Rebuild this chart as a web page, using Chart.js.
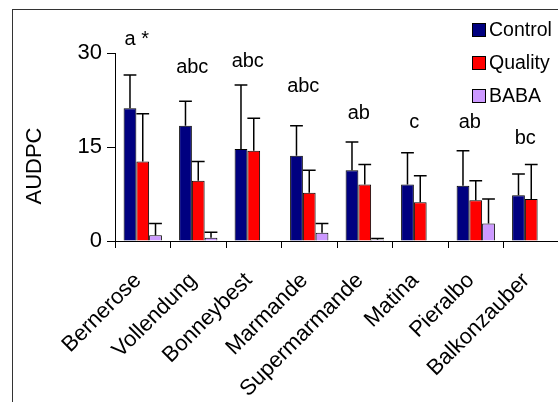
<!DOCTYPE html>
<html>
<head>
<meta charset="utf-8">
<script src="https://cdn.jsdelivr.net/npm/chart.js@4"></script>
<style>
  html, body { margin: 0; padding: 0; background: #fff; overflow: hidden; }
  #wrap { width: 570px; height: 402px; }
</style>
</head>
<body>
<div id="wrap"><canvas id="chartId" width="570" height="402"></canvas></div>
<script>
// cultivars and AUDPC means (+ SD, upper whisker only)
var cultivars = ['Bernerose', 'Vollendung', 'Bonneybest', 'Marmande', 'Supermarmande', 'Matina', 'Pieralbo', 'Balkonzauber'];
var seriesNames = ['Control', 'Quality', 'BABA'];
var control    = [21.2, 18.4, 14.7, 13.6, 11.3, 9.0, 8.8, 7.3];
var controlSd  = [5.3, 3.9, 10.2, 4.8, 4.5, 5.1, 5.6, 3.4];
var quality    = [12.7, 9.6, 14.4, 7.7, 9.0, 6.2, 6.5, 6.7];
var qualitySd  = [7.6, 3.1, 5.2, 3.6, 3.2, 4.2, 3.1, 5.5];
var baba       = [0.9, 0.5, 0, 1.3, 0.2, 0, 2.8, 0];
var babaSd     = [1.9, 0.9, 0, 1.5, 0.2, 0, 3.9, 0];
// significance letters and the height (AUDPC units) they sit at
var letters    = ['a *', 'abc', 'abc', 'abc', 'ab', 'c', 'ab', 'bc'];
var letterAt   = [32.1, 27.7, 28.6, 24.6, 20.4, 18.9, 18.9, 16.4];
var yTicks     = [0, 15, 30];

var colors = ['#000080', '#FF0000', '#CC99FF'];
var sds = [controlSd, qualitySd, babaSd];
var FONT = 'Arial, "Liberation Sans", sans-serif';

var extras = {
    id: 'extras',
    beforeDraw: function(chart) {
        var ctx = chart.ctx;
        ctx.save();
        ctx.fillStyle = '#fff';
        ctx.fillRect(0, 0, chart.width, chart.height);
        ctx.restore();
    },
    afterDatasetsDraw: function(chart) {
        var ctx = chart.ctx;
        var y = chart.scales.y;
        var x = chart.scales.x;
        ctx.save();
        // error bars
        ctx.strokeStyle = '#000';
        ctx.lineWidth = 1.5;
        chart.data.datasets.forEach(function(ds, di) {
            var meta = chart.getDatasetMeta(di);
            meta.data.forEach(function(bar, i) {
                var sd = sds[di][i];
                if (!sd) return;
                var top = y.getPixelForValue(ds.data[i] + sd);
                var half = bar.width / 2;
                ctx.beginPath();
                ctx.moveTo(bar.x, bar.y);
                ctx.lineTo(bar.x, top);
                ctx.moveTo(bar.x - half, top);
                ctx.lineTo(bar.x + half, top);
                ctx.stroke();
            });
        });
        ctx.fillStyle = '#000';
        // category labels, rotated 45 degrees
        ctx.font = '22px ' + FONT;
        ctx.textAlign = 'right';
        ctx.textBaseline = 'middle';
        cultivars.forEach(function(c, i) {
            ctx.save();
            ctx.translate(x.getPixelForValue(i) - 5, 277);
            ctx.rotate(-Math.PI / 4);
            ctx.fillText(c, 0, 0);
            ctx.restore();
        });
        // letters
        ctx.font = '20px ' + FONT;
        ctx.textAlign = 'center';
        ctx.textBaseline = 'middle';
        letters.forEach(function(t, i) {
            ctx.fillText(t, x.getPixelForValue(i) - 6, y.getPixelForValue(letterAt[i]));
        });
        // y title
        ctx.save();
        ctx.translate(35, 166);
        ctx.rotate(-Math.PI / 2);
        ctx.font = '22px ' + FONT;
        ctx.fillText('AUDPC', 0, 0);
        ctx.restore();
        // legend
        ctx.font = '19.5px ' + FONT;
        ctx.textAlign = 'left';
        seriesNames.forEach(function(n, i) {
            var cy = 30 + i * 33;
            ctx.fillStyle = colors[i];
            ctx.fillRect(472, cy - 7, 14, 14);
            ctx.lineWidth = 1;
            ctx.strokeStyle = '#000';
            ctx.strokeRect(472.5, cy - 6.5, 13, 13);
            ctx.fillStyle = '#000';
            ctx.fillText(n, 489, cy + 1);
        });
        // outer frame
        ctx.strokeStyle = '#333';
        ctx.lineWidth = 1;
        ctx.strokeRect(12.5, 9.5, 700, 500);
        ctx.restore();
    }
};

var chrt = document.getElementById('chartId').getContext('2d');
var chartId = new Chart(chrt, {
    type: 'bar',
    data: {
        labels: cultivars,
        datasets: [
            { label: seriesNames[0], data: control, backgroundColor: colors[0] },
            { label: seriesNames[1], data: quality, backgroundColor: colors[1] },
            { label: seriesNames[2], data: baba, backgroundColor: colors[2] }
        ].map(function(d) {
            d.borderColor = '#000';
            d.borderWidth = 1;
            d.categoryPercentage = 0.69;
            d.barPercentage = 1.0;
            return d;
        })
    },
    options: {
        responsive: false,
        animation: false,
        layout: { padding: { left: 0, top: 53, right: 11, bottom: 0 } },
        plugins: { legend: { display: false }, tooltip: { enabled: false } },
        scales: {
            x: {
                afterFit: function(s) { s.height = 161; },
                grid: { drawOnChartArea: false, drawTicks: true, tickLength: 7, color: '#000' },
                border: { display: true, color: '#000', width: 1 },
                ticks: { display: false }
            },
            y: {
                min: 0, max: 30,
                afterFit: function(s) { s.width = 115; },
                afterBuildTicks: function(s) { s.ticks = yTicks.map(function(v) { return { value: v }; }); },
                grid: { drawOnChartArea: false, drawTicks: true, tickLength: 8, color: '#000' },
                border: { display: true, color: '#000', width: 1 },
                ticks: { color: '#000', font: { family: FONT, size: 22 }, padding: 5 }
            }
        }
    },
    plugins: [extras]
});
</script>
</body>
</html>
